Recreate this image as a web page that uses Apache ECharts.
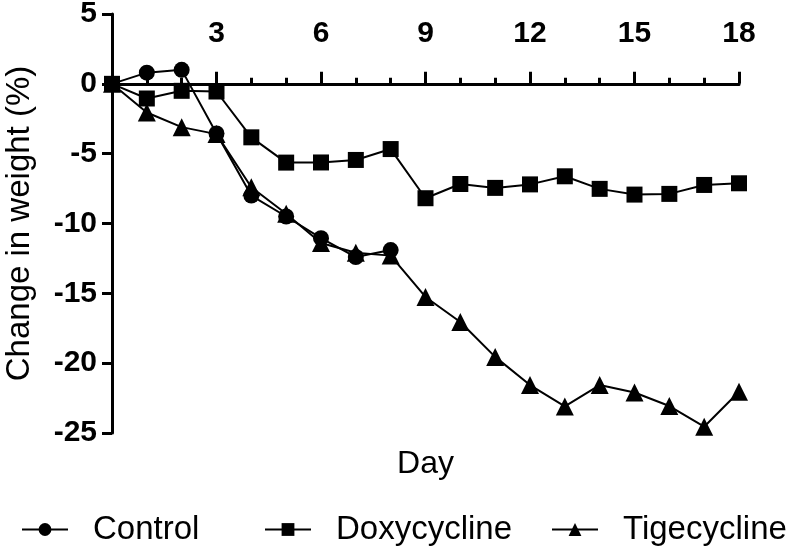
<!DOCTYPE html>
<html>
<head>
<meta charset="utf-8">
<script src="https://cdn.jsdelivr.net/npm/echarts@6/dist/echarts.min.js"></script>
<style>html,body{margin:0;padding:0;background:#fff}#c{width:789px;height:553px}</style>
</head>
<body>
<div id="c"></div>
<script>
var days = [0,1,2,3,4,5,6,7,8,9,10,11,12,13,14,15,16,17,18];
var control = [0, 0.8, 1.0, -3.55, -8.0, -9.5, -11.05, -12.4, -11.9];
var doxycycline = [0, -1.05, -0.5, -0.55, -3.83, -5.64, -5.63, -5.45, -4.67, -8.19, -7.17, -7.45, -7.2, -6.62, -7.52, -7.93, -7.88, -7.24, -7.12];
var tigecycline = [0, -2.05, -3.1, -3.6, -7.4, -9.3, -11.4, -12.1, -12.3, -15.26, -17.05, -19.55, -21.57, -23.1, -21.57, -22.1, -23.07, -24.55, -22.05];
var seriesNames = ['Control', 'Doxycycline', 'Tigecycline'];
var xTicks = [3, 6, 9, 12, 15, 18];

function pairs(arr){ return arr.map(function(v,i){ return [days[i], v]; }); }

var chart = echarts.init(document.getElementById('c'));
var font = 'Liberation Sans, Arial, sans-serif';
var common = {type:'line', lineStyle:{color:'#000', width:2}, itemStyle:{color:'#000'}, symbolSize:16};
function legendAt(name, left){
  return {left:left, top:508, itemWidth:46, itemHeight:16,
    textStyle:{fontFamily:font, fontSize:33, color:'#000', padding:[0,0,0,20]},
    data:[name]};
}
chart.setOption({
  animation:false,
  grid:{left:112, right:50, top:14, bottom:120, containLabel:false, outerBoundsMode:'none'},
  legend:[legendAt(seriesNames[0], 16), legendAt(seriesNames[1], 259), legendAt(seriesNames[2], 546)],
  xAxis:[{
    type:'value', min:0, max:18, interval:3, position:'top',
    axisLine:{onZero:true, lineStyle:{color:'#000', width:3}},
    axisTick:{show:true, length:12, lineStyle:{color:'#000', width:3}},
    minorTick:{show:true, splitNumber:3, length:6, lineStyle:{color:'#000', width:3}},
    splitLine:{show:false},
    axisLabel:{margin:-35, fontFamily:font, fontWeight:'bold', fontSize:30, color:'#000',
      formatter:function(v){ return xTicks.indexOf(v) >= 0 ? String(v) : ''; }}
  },{
    type:'value', min:0, max:18, position:'bottom', name:'Day', nameLocation:'middle', nameGap:15,
    nameTextStyle:{fontFamily:font, fontSize:32, color:'#000'},
    axisLine:{show:false, onZero:false}, axisTick:{show:false}, axisLabel:{show:false}, splitLine:{show:false}
  }],
  yAxis:{
    type:'value', min:-25, max:5, interval:5,
    name:'Change in weight (%)', nameLocation:'middle', nameGap:76,
    nameTextStyle:{fontFamily:font, fontSize:33, color:'#000'},
    axisLine:{show:true, lineStyle:{color:'#000', width:3}},
    axisTick:{show:true, length:10, lineStyle:{color:'#000', width:3}},
    splitLine:{show:false},
    axisLabel:{margin:15, fontFamily:font, fontWeight:'bold', fontSize:30, color:'#000'}
  },
  series:[
    Object.assign({}, common, {name:seriesNames[0], symbol:'circle', data:pairs(control), z:3}),
    Object.assign({}, common, {name:seriesNames[2], symbol:'triangle', symbolSize:18, data:pairs(tigecycline), z:3}),
    Object.assign({}, common, {name:seriesNames[1], symbol:'rect', data:pairs(doxycycline), z:4})
  ]
});
</script>
</body>
</html>
